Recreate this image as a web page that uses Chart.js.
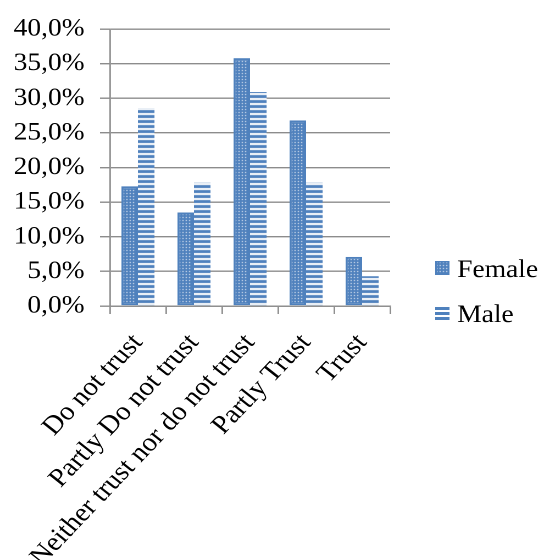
<!DOCTYPE html>
<html lang="en">
<head>
<meta charset="UTF-8">
<title>Trust by gender</title>
<script src="https://cdn.jsdelivr.net/npm/chart.js"></script>
<style>
    body { margin: 0; background: #fff; }
    #chart { display: block; width: 544px; height: 560px; }
</style>
</head>
<body>
<!-- drawn at a slightly narrower logical width and stretched, like the source image -->
<canvas id="chart" width="495" height="560" style="width:544px;height:560px"></canvas>
<script>
    const categories = ['Do not trust', 'Partly Do not trust', 'Neither trust nor do not trust', 'Partly Trust', 'Trust'];
    const female = [17.3, 13.5, 35.8, 26.8, 7.1];
    const male = [28.6, 17.8, 30.9, 17.8, 4.3];
    const seriesNames = ['Female', 'Male'];
    const yTicks = [0, 5, 10, 15, 20, 25, 30, 35, 40];

    const BLUE = '#4F81BD';
    const SERIF = '"Liberation Serif", "Times New Roman", serif';
    const FONT = { family: SERIF, size: 25 };
    const XFONT = { family: SERIF, size: 26 };

    function dotPattern() {
        const c = document.createElement('canvas');
        c.width = 3; c.height = 3;
        const g = c.getContext('2d');
        g.fillStyle = BLUE;
        g.fillRect(0, 0, 3, 3);
        g.fillStyle = '#ffffff';
        g.fillRect(1, 1, 1, 1);
        return g.createPattern(c, 'repeat');
    }

    function stripePattern() {
        const c = document.createElement('canvas');
        c.width = 4; c.height = 5;
        const g = c.getContext('2d');
        g.fillStyle = '#ffffff';
        g.fillRect(0, 0, 4, 5);
        g.fillStyle = BLUE;
        g.fillRect(0, 0, 4, 3);
        return g.createPattern(c, 'repeat');
    }

    const femaleFill = dotPattern();
    const maleFill = stripePattern();

    // legend on the right, drawn by hand so it sits where the original has it
    const sideLegend = {
        id: 'sideLegend',
        afterDraw(chart) {
            const ctx = chart.ctx;
            const x = chart.chartArea.right + 41;
            ctx.save();
            ctx.font = FONT.size + 'px ' + FONT.family;
            ctx.textBaseline = 'alphabetic';

            // Female
            let y = 268;
            ctx.fillStyle = femaleFill;
            ctx.fillRect(x, y - 7, 13, 14);
            ctx.strokeStyle = BLUE;
            ctx.lineWidth = 1.5;
            ctx.strokeRect(x + 0.75, y - 6.25, 11.5, 12.5);
            ctx.fillStyle = '#000';
            ctx.fillText(seriesNames[0], x + 20, y + 9);

            // Male
            y = 313;
            ctx.fillStyle = BLUE;
            ctx.fillRect(x, y - 6, 13, 3);
            ctx.fillRect(x, y - 1, 13, 3);
            ctx.fillRect(x, y + 4, 13, 3);
            ctx.fillStyle = '#000';
            ctx.fillText(seriesNames[1], x + 20, y + 9);
            ctx.restore();
        }
    };

    new Chart(document.getElementById('chart'), {
        type: 'bar',
        data: {
            labels: categories,
            datasets: [{
                label: seriesNames[0],
                data: female,
                backgroundColor: femaleFill,
                borderColor: BLUE,
                borderWidth: 2,
                borderSkipped: false
            }, {
                label: seriesNames[1],
                data: male,
                backgroundColor: maleFill,
                borderWidth: 0
            }]
        },
        options: {
            responsive: false,
            devicePixelRatio: 2,
            animation: false,
            categoryPercentage: 0.59,
            barPercentage: 1,
            layout: { padding: { top: 25, right: 140, left: 0, bottom: 0 } },
            plugins: {
                legend: { display: false },
                tooltip: { enabled: false }
            },
            scales: {
                x: {
                    grid: {
                        drawOnChartArea: false,
                        drawTicks: true,
                        tickLength: 8,
                        color: '#8c8c8c',
                        lineWidth: 1.4
                    },
                    border: { color: '#8c8c8c', width: 1.4 },
                    ticks: {
                        color: '#000',
                        font: XFONT,
                        minRotation: 49,
                        maxRotation: 49,
                        autoSkip: false,
                        padding: 14
                    },
                    afterFit(scale) { scale.height = 254; }
                },
                y: {
                    min: 0,
                    max: 40,
                    afterBuildTicks(scale) { scale.ticks = yTicks.map(v => ({ value: v })); },
                    grid: {
                        color: '#8c8c8c',
                        lineWidth: 1.4,
                        tickLength: 9
                    },
                    border: { color: '#8c8c8c', width: 1.4 },
                    ticks: {
                        color: '#000',
                        font: FONT,
                        padding: 14,
                        callback: v => v.toFixed(1).replace('.', ',') + '%'
                    },
                    afterFit(scale) { scale.width = 100; }
                }
            }
        },
        plugins: [sideLegend]
    });
</script>
</body>
</html>
